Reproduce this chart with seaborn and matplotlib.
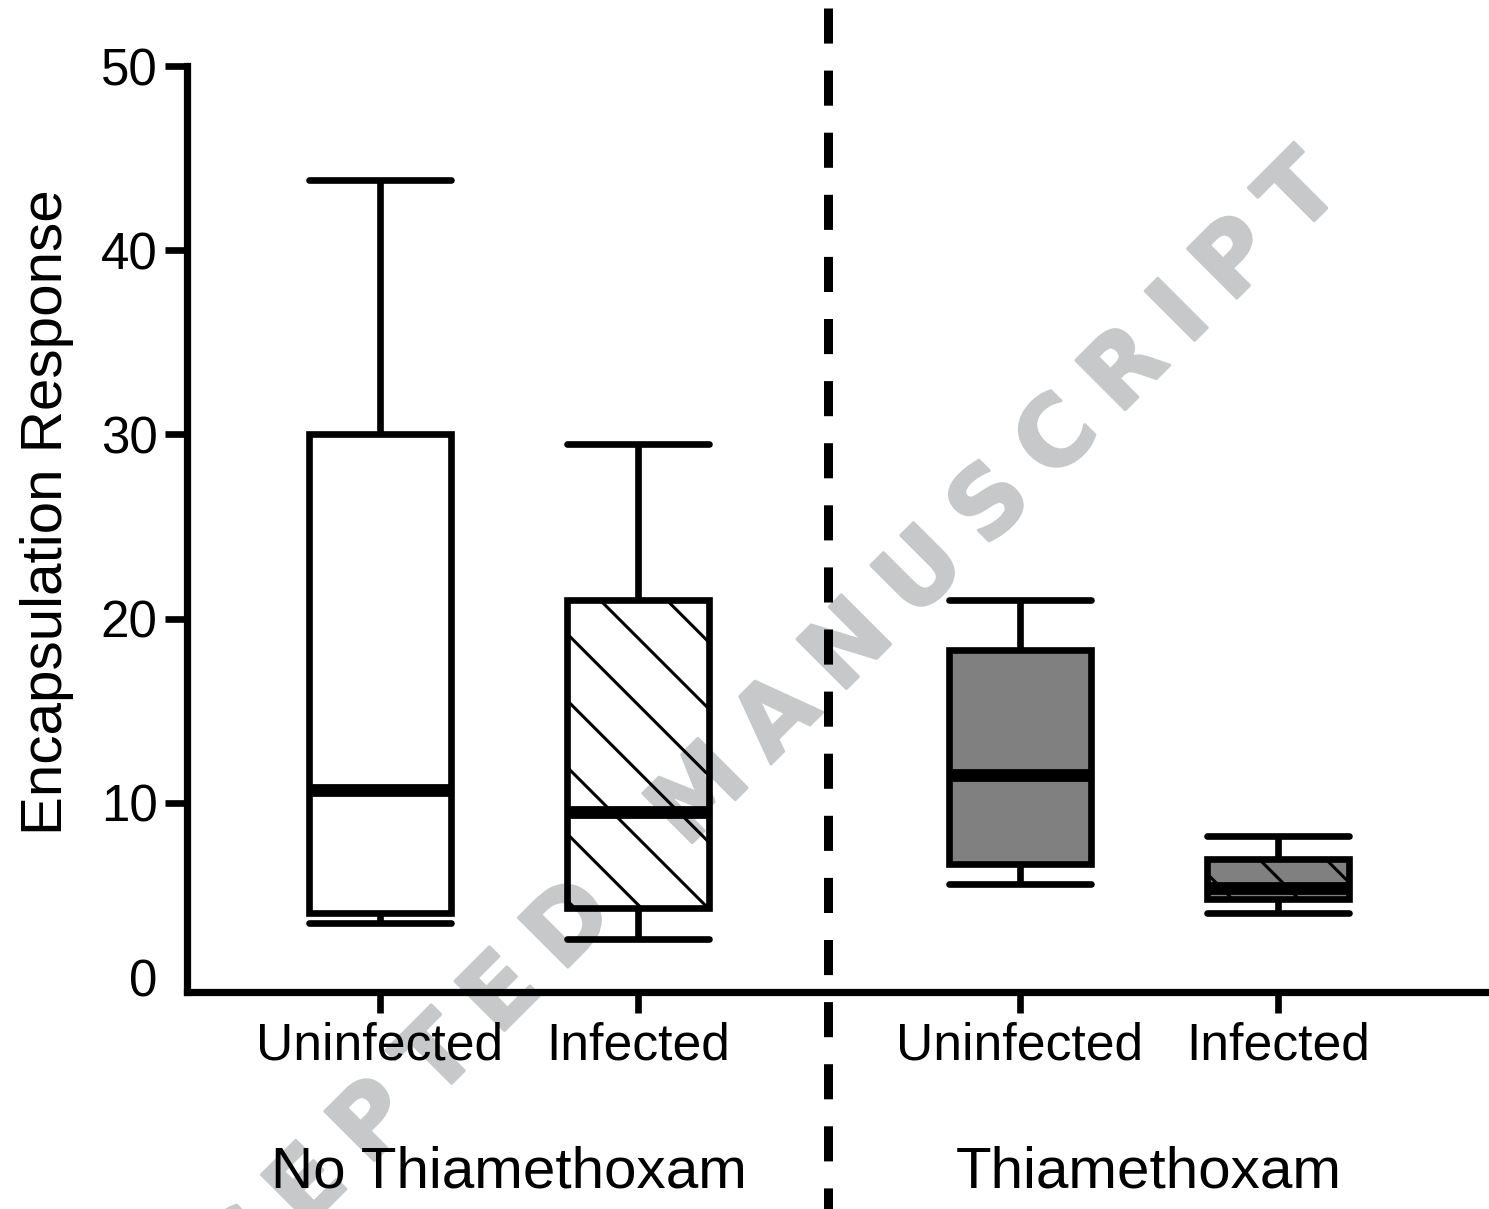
import numpy as np
import pandas as pd
import seaborn as sns
import matplotlib.pyplot as plt
import matplotlib.transforms as mtransforms
import matplotlib.patheffects as pe

# five-number summaries (min, Q1, median, Q3, max)
no_thia_uninfected = [3.5, 4.0, 10.7, 30.0, 43.8]
no_thia_infected = [2.6, 4.3, 9.5, 21.0, 29.5]
thia_uninfected = [5.6, 6.7, 11.5, 18.3, 21.0]
thia_infected = [4.0, 4.8, 5.4, 6.95, 8.2]

tick_labels = ["Uninfected", "Infected", "Uninfected", "Infected"]
group_labels = ["No Thiamethoxam", "Thiamethoxam"]
y_ticks = [0, 10, 20, 30, 40, 50]

# layout: positions of boxes on a numeric x axis (gap between treatment groups)
positions = [1.0, 2.0, 3.48, 4.48]
series = [no_thia_uninfected, no_thia_infected, thia_uninfected, thia_infected]
rows = []
for p, vals in zip(positions, series):
    for v in vals:
        rows.append({"pos": p, "value": v})
df = pd.DataFrame(rows)

sns.set_style("ticks")
plt.rcParams['font.family'] = ['Liberation Sans', 'DejaVu Sans']
plt.rcParams['text.color'] = 'black'
plt.rcParams['axes.labelcolor'] = 'black'
plt.rcParams['hatch.color'] = 'black'
plt.rcParams['hatch.linewidth'] = 0.55

DPI = 400
fig = plt.figure(figsize=(1489 / DPI, 1209 / DPI), dpi=DPI)
fig.patch.set_facecolor('white')
ax = fig.add_axes([187 / 1489, 217 / 1209, 1302 / 1489, 926 / 1209])
ax.patch.set_alpha(0)

# watermark, drawn underneath everything (letter-spaced with narrow spaces)
wm_color = '#c7c8ca'
sp = '\u2005'
wm_text = sp.join("ACCEPTED") + sp * 4 + sp.join("MANUSCRIPT")
fig.text(0.4853, 0.3280, wm_text,
         rotation=45, rotation_mode='anchor', ha='center', va='baseline',
         fontsize=17.3, fontweight='bold', family=['DejaVu Sans'],
         color=wm_color, zorder=-1,
         path_effects=[pe.withStroke(linewidth=0.5, foreground=wm_color)])

sns.boxplot(
    data=df,
    x="pos",
    y="value",
    native_scale=True,
    whis=(0, 100),
    width=0.55,
    capwidths=0.55,
    color="white",
    linecolor="black",
    linewidth=1.2,
    showfliers=False,
    medianprops={"linewidth": 2.3},
    ax=ax,
)

fills = ['none', 'none', '#808080', '#808080']
hatches = [None, '\\\\', None, '\\\\']
for patch, fc, h in zip(ax.patches, fills, hatches):
    patch.set_facecolor(fc)
    patch.set_edgecolor('black')
    patch.set_joinstyle('miter')
    if h:
        patch.set_hatch(h)

# dashed separator between treatment groups
sep_x = 2.736
ax.plot([sep_x, sep_x], [1.0626, -0.24], transform=ax.get_xaxis_transform(),
        color='black', linewidth=1.62, dashes=(3.9, 3.0),
        dash_capstyle='butt', clip_on=False, zorder=3)

ax.set_xlim(0.252, 5.298)
ax.set_ylim(-0.27, 50)
ax.set_yticks(y_ticks)
ax.set_xticks(positions)
ax.set_xticklabels(tick_labels)
ax.set_xlabel("")
ax.set_ylabel("Encapsulation Response", fontsize=10.5, color='black')
ax.yaxis.set_label_coords(-0.087, 0.518)

sns.despine(ax=ax)
for side in ['left', 'bottom']:
    ax.spines[side].set_linewidth(1.3)
    ax.spines[side].set_color('black')
ax.spines['left'].set_bounds(-0.27, 50)

ax.tick_params(axis='y', length=4.0, width=1.2, pad=1.3, labelsize=9.2, colors='black')
ax.tick_params(axis='x', length=3.8, width=1.2, pad=1.5, labelsize=9.3, colors='black')
zero_tick = ax.yaxis.get_major_ticks()[0]
zero_tick.tick1line.set_visible(False)
zero_tick.label1.set_transform(zero_tick.label1.get_transform()
                               + mtransforms.ScaledTranslation(0, 10 / DPI, fig.dpi_scale_trans))

# treatment group labels under the tick labels
trans = mtransforms.blended_transform_factory(ax.transData, fig.transFigure)
fig.text((positions[0] + positions[1]) / 2, 0.0174, group_labels[0],
         transform=trans, ha='center', va='baseline', fontsize=10.5, color='black')
fig.text((positions[2] + positions[3]) / 2, 0.0174, group_labels[1],
         transform=trans, ha='center', va='baseline', fontsize=10.5, color='black')

fig.savefig("out.png", dpi=DPI)
